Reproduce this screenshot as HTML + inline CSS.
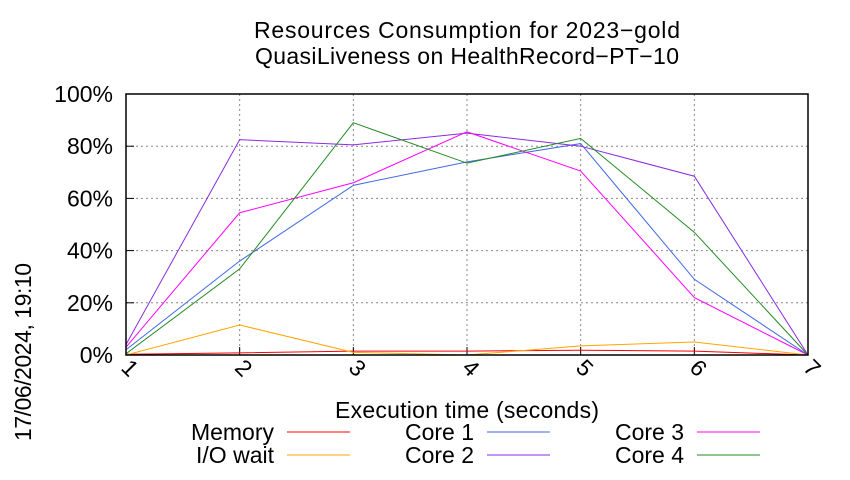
<!DOCTYPE html>
<html><head><meta charset="utf-8"><style>
body{margin:0;background:#fff;}
svg text{font-family:"Liberation Sans",sans-serif;fill:#000;}
</style></head><body>
<svg id="chart" width="850" height="475">
<text x="467" y="38" font-size="23" text-anchor="middle" textLength="426">Resources Consumption for 2023−gold</text>
<text x="467" y="64" font-size="23" text-anchor="middle" textLength="424">QuasiLiveness on HealthRecord−PT−10</text>
<g id="grid"></g>
<g id="series"></g>
<rect x="126" y="94" width="682" height="261" fill="none" stroke="#000" stroke-width="1.5"/>
<text x="467" y="418" font-size="23" text-anchor="middle" textLength="264">Execution time (seconds)</text>
<text transform="translate(31,352) rotate(-90)" font-size="23" text-anchor="middle" textLength="178">17/06/2024, 19:10</text>
<g id="legend"></g>
</svg>
<script>
const xValues=[1,2,3,4,5,6,7];
const yTicks=[0,20,40,60,80,100];
const memory=[0.3,0.8,1.5,1.5,1.8,1.5,0];
const ioWait=[0,11.5,1,0,3.5,5,0];
const core1=[2,36,65,74,81,29,0];
const core2=[4,82.5,80.5,85,80,68.5,0];
const core3=[3,54.5,66,85.5,70.5,22,0];
const core4=[0.5,33,89,73.5,83,47,0];
const seriesNames=["Memory","I/O wait","Core 1","Core 2","Core 3","Core 4"];
const seriesColors=["#ff0000","#ffa500","#4169e1","#8a2be2","#ff00ff","#228b22"];
const NS="http://www.w3.org/2000/svg";
const x=v=>126+(v-1)*(682/6);
const y=v=>355-v*2.61;
function mk(t,a,p){const e=document.createElementNS(NS,t);for(const k in a)e.setAttribute(k,a[k]);p.appendChild(e);return e;}
const grid=document.getElementById('grid');
yTicks.forEach(t=>{
  if(t>0&&t<100){const l=mk('line',{x1:126,x2:808,y1:y(t),y2:y(t),stroke:'#888','stroke-dasharray':'2,3'},grid);
  
  }
  const tk=mk('line',{x1:126,x2:134,y1:y(t),y2:y(t),stroke:'#000'},grid);
  
  
  const tx=mk('text',{x:113,y:y(t)+8,'font-size':23,'text-anchor':'end'},grid);
  
  
  tx.textContent=t+'%';
});
xValues.forEach(v=>{
  if(v>1&&v<7){const l=mk('line',{x1:x(v),x2:x(v),y1:94,y2:355,stroke:'#888','stroke-dasharray':'2,3'},grid);
  
  }
  const tk=mk('line',{x1:x(v),x2:x(v),y1:347,y2:355,stroke:'#000'},grid);
  
  
  const tx=mk('text',{transform:`translate(${x(v)-6},${369}) rotate(45)`,'font-size':23},grid);
  
  
  tx.textContent=v;
});
const sg=document.getElementById('series');
[memory,ioWait,core1,core2,core3,core4].forEach((d,i)=>{
  const p=mk('polyline',{points:d.map((v,j)=>x(xValues[j])+','+y(v)).join(' '),fill:'none',stroke:seriesColors[i],'stroke-width':1},sg);
  
  
});
const lg=document.getElementById('legend');
const labelX=[274,474,684];
const swatchX=[287,487,697];
seriesNames.forEach((n,i)=>{
  const c=Math.floor(i/2),r=i%2,yy=432+r*23;
  const t=mk('text',{x:labelX[c],y:yy+8,'font-size':23,'text-anchor':'end'},lg);
  
  
  t.textContent=n;
  const l=mk('line',{x1:swatchX[c],x2:swatchX[c]+63,y1:yy,y2:yy,stroke:seriesColors[i]},lg);
  
  
});
</script>
</body></html>
